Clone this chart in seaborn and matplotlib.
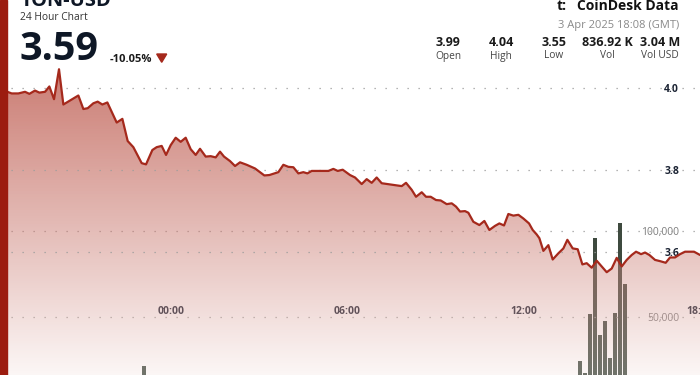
import numpy as np
import pandas as pd
import matplotlib
matplotlib.use("Agg")
import matplotlib.pyplot as plt
import seaborn as sns
from matplotlib.patches import Polygon, Rectangle

# ---------------- data ----------------
# hours relative to 00:00 (negative = previous day)
price_hours = [-5.583, -5.435, -5.208, -4.981, -4.834, -4.641, -4.493, -4.300, -4.153, -3.994,
               -3.824, -3.676, -3.165, -2.995, -2.847, -2.655, -2.507, -2.348, -2.178, -1.860,
               -1.667, -1.486, -1.293, -1.009, -0.861, -0.646, -0.498, -0.328, -0.180, -0.021,
               0.149, 0.319, 0.489, 0.660, 0.830, 0.977, 1.170, 1.340, 1.511, 1.658,
               1.794, 1.999, 2.169, 2.339, 2.566, 2.850, 3.167, 3.338, 3.644, 3.814,
               3.985, 4.155, 4.325, 4.495, 4.632, 4.779, 5.347, 5.517, 5.665, 5.835,
               6.084, 6.255, 6.482, 6.652, 6.822, 6.992, 7.163, 7.844, 7.991, 8.184,
               8.331, 8.525, 8.672, 8.831, 9.012, 9.171, 9.376, 9.546, 9.693, 9.830,
               10.000, 10.113, 10.283, 10.488, 10.658, 10.828, 11.021, 11.169, 11.328, 11.475,
               11.645, 11.816, 11.986, 12.179, 12.304, 12.440, 12.531, 12.667, 12.837, 12.985,
               13.177, 13.348, 13.484, 13.666, 13.836, 13.995, 14.142, 14.313, 14.483, 14.653,
               14.824, 14.994, 15.164, 15.334, 15.505, 15.675, 15.822, 15.993, 16.128, 16.276,
               16.469, 16.639, 16.832, 16.980, 17.150, 17.320, 17.491, 17.797, 18.001]
prices = [3.990, 3.986, 3.986, 3.990, 3.985, 3.993, 3.988, 3.990, 4.003, 3.972,
          4.045, 3.959, 3.981, 3.948, 3.950, 3.962, 3.966, 3.959, 3.964, 3.915,
          3.924, 3.870, 3.855, 3.816, 3.813, 3.848, 3.855, 3.858, 3.836, 3.860,
          3.878, 3.868, 3.878, 3.850, 3.836, 3.851, 3.832, 3.833, 3.830, 3.844,
          3.832, 3.821, 3.809, 3.818, 3.812, 3.803, 3.786, 3.787, 3.794, 3.812,
          3.807, 3.806, 3.791, 3.794, 3.791, 3.797, 3.797, 3.802, 3.797, 3.800,
          3.787, 3.781, 3.765, 3.777, 3.768, 3.781, 3.767, 3.760, 3.768, 3.751,
          3.734, 3.745, 3.734, 3.734, 3.726, 3.725, 3.716, 3.718, 3.710, 3.698,
          3.699, 3.695, 3.673, 3.665, 3.675, 3.653, 3.663, 3.669, 3.664, 3.692,
          3.688, 3.690, 3.681, 3.669, 3.653, 3.642, 3.633, 3.602, 3.616, 3.581,
          3.596, 3.608, 3.629, 3.608, 3.606, 3.569, 3.572, 3.561, 3.578, 3.564,
          3.550, 3.559, 3.585, 3.564, 3.580, 3.592, 3.600, 3.594, 3.598, 3.592,
          3.580, 3.577, 3.573, 3.586, 3.586, 3.594, 3.600, 3.600, 3.592]

volume_hours = [-0.940, 13.926, 14.096, 14.266, 14.436, 14.607, 14.777, 14.947, 15.117, 15.277, 15.447]
volumes = [21300, 24400, 17300, 51400, 95600, 39400, 47500, 26200, 52000, 104700, 68800]

price_ticks = [3.6, 3.8, 4.0]
price_tick_labels = ["3.6", "3.8", "4.0"]
volume_ticks = [50000, 100000]
volume_tick_labels = ["50,000", "100,000"]
time_ticks = [0, 6, 12, 18]
time_tick_labels = ["00:00", "06:00", "12:00", "18:00"]

stat_values = ["3.99", "4.04", "3.55", "836.92 K", "3.04 M"]
stat_labels = ["Open", "High", "Low", "Vol", "Vol USD"]

# ---------------- style ----------------
sns.set_theme(style="white")
plt.rcParams["font.family"] = ["Open Sans", "DejaVu Sans"]

W, H = 700, 375
fig = plt.figure(figsize=(7, 3.75), dpi=100)
fig.patch.set_facecolor("white")

ax = fig.add_axes([0, 0, 1, 1])
ax2 = ax.twinx()
ax.set_zorder(2)
ax.patch.set_visible(False)
ax2.set_zorder(1)

XLIM = (-5.833, 18.0)
PLIM = (3.2993, 4.2139)
VLIM = (16105, 234130)

# volume bars (behind the price fill)
ax2.bar(volume_hours, volumes, width=0.138, color="#3e4a3f", align="center", zorder=1,
        linewidth=0)

# gradient fill under price line
N = 375
ypix = (np.arange(N) + 0.5) * H / N
t = np.clip((ypix - 70) / (375 - 70), 0, 1)
a_top, a_bot = 0.72, 0.28
c_top = np.array([183, 74, 61])
c_bot = np.array([244, 226, 223])
alpha = a_top + t * (a_bot - a_top)
pm = (a_top * c_top)[None, :] + t[:, None] * ((a_bot * c_bot) - (a_top * c_top))[None, :]
col = pm / alpha[:, None] / 255.0
img = np.zeros((N, 2, 4))
img[:, :, :3] = np.clip(col, 0, 1)[:, None, :]
img[:, :, 3] = alpha[:, None]
im = ax.imshow(img, extent=[XLIM[0], XLIM[1], PLIM[0], PLIM[1]], origin="upper",
               aspect="auto", zorder=1, interpolation="bilinear")
poly = ax.fill_between(price_hours, prices, PLIM[0], facecolor="none", edgecolor="none", zorder=1)
im.set_clip_path(poly.get_paths()[0], transform=ax.transData)

# grid (dotted)
for v in price_ticks:
    ax.axhline(v, color="#9c9c9c", lw=0.9, ls=(0, (1, 7.8)), zorder=2)
for v in volume_ticks:
    ax2.axhline(v, color="#9c9c9c", lw=0.9, ls=(0, (1, 7.8)), zorder=2)

# price line
df = pd.DataFrame({"hour": price_hours, "price": prices})
sns.lineplot(data=df, x="hour", y="price", ax=ax, color="#a5291c", linewidth=1.6, zorder=4)
ax.set_xlabel("")
ax.set_ylabel("")

ax.set_xlim(*XLIM)
ax.set_ylim(*PLIM)
ax2.set_ylim(*VLIM)

for s in list(ax.spines.values()) + list(ax2.spines.values()):
    s.set_visible(False)

# price ticks (inside, right)
ax.yaxis.tick_right()
ax.set_yticks(price_ticks)
ax.set_yticklabels(price_tick_labels)
ax.tick_params(axis="y", which="both", length=0, pad=-15, labelsize=7.5, labelcolor="#1b2333")
for lab in ax.get_yticklabels():
    lab.set_ha("right")
    lab.set_fontweight("bold")

# volume ticks
ax2.set_yticks(volume_ticks)
ax2.set_yticklabels(volume_tick_labels)
ax2.tick_params(axis="y", which="both", length=0, pad=-15, labelsize=7.5, labelcolor="#7d7d7d")
for lab in ax2.get_yticklabels():
    lab.set_ha("right")

# time ticks
ax.spines["bottom"].set_position(("data", 3.4993))
ax.set_xticks(time_ticks)
ax.set_xticklabels(time_tick_labels, fontweight="bold")
ax.tick_params(axis="x", direction="out", length=1.2, width=1, color="#333333",
               pad=8, labelsize=7.5, labelcolor="#1b2333")

# ---------------- header text ----------------
def ftxt(x, y, s, **kw):
    fig.text(x / W, 1 - y / H, s, va="baseline", **kw)

ftxt(20.5, 6.5, "TON-USD", fontsize=14.4, fontweight="bold", color="#0e1726")
ftxt(20.5, 20, "24 Hour Chart", fontsize=7.4, color="#333333")
ftxt(19.5, 60, "3.59", fontsize=28.5, fontweight="bold", color="#0e1726")
ftxt(110, 61.5, "-10.05%", fontsize=8, fontweight="bold", color="#1b1b1b")
tri = Polygon([((156.7) / W, 1 - 54 / H), (166.7 / W, 1 - 54 / H), (161.7 / W, 1 - 62.3 / H)],
              closed=True, transform=fig.transFigure, color="#a5291c")
fig.add_artist(tri)

ftxt(557, 10, "t:", fontsize=10, fontweight="bold", color="#111111")
ftxt(678.5, 10, "CoinDesk Data", fontsize=10, fontweight="bold", color="#111111", ha="right")
ftxt(679.5, 28, "3 Apr 2025 18:08 (GMT)", fontsize=8, color="#8a8a8a", ha="right")

stat_x = [448, 501, 554, 607.5, 660]
for x, v, l in zip(stat_x, stat_values, stat_labels):
    ftxt(x, 45.5, v, fontsize=9, fontweight="bold", color="#1a1a1a", ha="center")
    ftxt(x, 58.5, l, fontsize=7.3, color="#444444", ha="center")

# left accent bar
fig.add_artist(Rectangle((0, 0), 7 / W, 1, transform=fig.transFigure, color="#9c1c10", zorder=10))

fig.savefig("out.png", dpi=100)
